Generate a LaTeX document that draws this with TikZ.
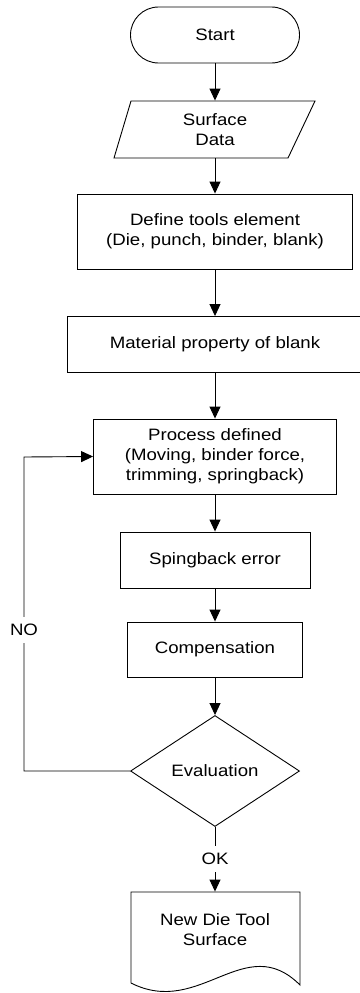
\documentclass[tikz,border=0pt]{standalone}
\usepackage{fontspec}
\setmainfont{Liberation Sans}[FakeStretch=1.13]
\usetikzlibrary{shapes.geometric,arrows.meta}
\begin{document}
\begin{tikzpicture}[x=1pt, y=-1pt, line width=0.9pt,
	font=\fontsize{16.5}{20}\selectfont,
	box/.style={draw, align=center, inner sep=0pt},
	arr/.style={-{Triangle[length=12pt,width=11pt]}},
	lbl/.style={fill=white, inner xsep=2pt, inner ysep=7pt}]
	\useasboundingbox (0,0) rectangle (359,993);
	% main column
	\node[box, rounded corners=28pt, minimum width=169pt, minimum height=56pt] (start) at (215,35) {Start};
	\node[align=center, minimum width=170pt, minimum height=57pt, inner sep=0pt] (data) at (215,129.5) {Surface\\Data};
	\draw (114,158) -- (131,101) -- (315,101) -- (288,158) -- cycle;
	\node[box, minimum width=275pt, minimum height=75pt] (tools) at (215,231.5) {Define tools element\\(Die, punch, binder, blank)};
	\node[box, minimum width=295pt, minimum height=56pt] (mat) at (215,344.5) {Material property of blank};
	\node[box, minimum width=243pt, minimum height=75pt] (proc) at (215,456.5) {Process defined\\(Moving, binder force,\\trimming, springback)};
	\node[box, minimum width=190pt, minimum height=56pt] (err) at (215,560) {Spingback error};
	\node[box, minimum width=175pt, minimum height=55pt] (comp) at (215,649.5) {Compensation};
	\node[box, diamond, aspect=1.5, minimum width=169pt, minimum height=111pt] (eval) at (215,771) {Evaluation};
	\node[align=center, minimum width=169pt, minimum height=76pt, inner sep=0pt] (doc) at (215,930) {New Die Tool\\Surface};
	\draw (131,983) -- (131,892) -- (300,892) -- (300,985) .. controls (245,930) and (200,1018) .. (131,983);
	% arrows
	\draw[arr] (start) -- (data);
	\draw[arr] (data) -- (tools);
	\draw[arr] (tools) -- (mat);
	\draw[arr] (mat) -- (proc);
	\draw[arr] (proc) -- (err);
	\draw[arr] (err) -- (comp);
	\draw[arr] (comp) -- (eval);
	\draw[arr] (eval) -- node[lbl] {OK} (doc.north);
	% loop back
	\coordinate (loopb) at (24,771);
	\coordinate (loopt) at (24,457);
	\draw[arr] (eval.west) -- (loopb) -- node[lbl, pos=0.45] {NO} (loopt) -- (proc.west);
\end{tikzpicture}
\end{document}
